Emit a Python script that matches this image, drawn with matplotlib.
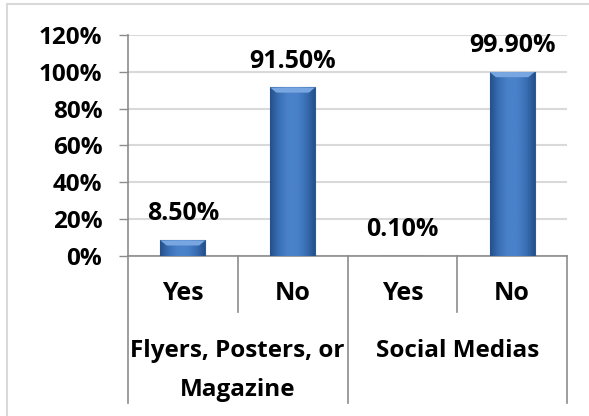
import numpy as np
import matplotlib
matplotlib.use("Agg")
import matplotlib.pyplot as plt
from matplotlib.colors import LinearSegmentedColormap
from matplotlib.ticker import FuncFormatter, MultipleLocator

# Survey responses: how respondents heard about the event
groups = ["Flyers, Posters, or\nMagazine", "Social Medias"]
answers = ["Yes", "No", "Yes", "No"]
values = [0.085, 0.915, 0.001, 0.999]
value_labels = ["8.50%", "91.50%", "0.10%", "99.90%"]

FONT = ["Open Sans", "DejaVu Sans"]
plt.rcParams["font.family"] = FONT
plt.rcParams["font.weight"] = "bold"

W, H = 589, 416
fig = plt.figure(figsize=(W / 100, H / 100), dpi=100)

# light frame around the chart area
fig.add_artist(plt.Line2D([7 / W, 7 / W], [0, 1 - 4 / H], color="#d9d9d9", lw=1.5))
fig.add_artist(plt.Line2D([7 / W, 1], [1 - 4 / H, 1 - 4 / H], color="#d9d9d9", lw=1.5))

left, right, top, bottom = 128, 567, 35, 256
ax = fig.add_axes([left / W, 1 - bottom / H, (right - left) / W, (bottom - top) / H])

x = np.arange(len(values))
bars = ax.bar(x, values, width=0.41, color="#3d72b8", edgecolor="#2b5a94", linewidth=0.8, zorder=3)

# bevelled blue shading on each bar
cmap = LinearSegmentedColormap.from_list(
    "bevel", ["#24508a", "#3a6fb5", "#4a82ca", "#4a82ca", "#3a6fb5", "#24508a"])
grad = np.linspace(0, 1, 256)[None, :]
for b in bars:
    x0, y0 = b.get_x(), b.get_y()
    bw, bh = b.get_width(), b.get_height()
    if bh <= 0.002:
        continue
    im = ax.imshow(grad, cmap=cmap, aspect="auto", extent=[x0, x0 + bw, y0, y0 + bh],
                   zorder=3.5, interpolation="bicubic")
    im.set_clip_path(b)
    # light strip along the top edge
    cap = min(0.028, bh * 0.35)
    ax.fill([x0, x0 + bw, x0 + bw * 0.86, x0 + bw * 0.14],
            [y0 + bh, y0 + bh, y0 + bh - cap, y0 + bh - cap],
            color="#78a6e0", zorder=4, lw=0)

for xi, v, lab in zip(x, values, value_labels):
    ax.annotate(lab, (xi, v), xytext=(0, 19), textcoords="offset points",
                ha="center", va="center", fontsize=18, fontweight="bold", color="black")

ax.set_xlim(-0.5, len(values) - 0.5)
ax.set_ylim(0, 1.2)
ax.yaxis.set_major_locator(MultipleLocator(0.2))
ax.yaxis.set_major_formatter(FuncFormatter(lambda v, _: f"{v * 100:.0f}%"))
ax.grid(axis="y", color="#d9d9d9", lw=1.5, zorder=0)
ax.set_axisbelow(True)
ax.tick_params(axis="y", length=6.5, width=1, color="#8c8c8c", labelsize=17.5, pad=12)
for lab in ax.get_yticklabels():
    lab.set_fontweight("bold")
ax.set_xticks([])

for s in ["top", "right"]:
    ax.spines[s].set_visible(False)
ax.spines["left"].set_color("#8c8c8c")
ax.spines["bottom"].set_color("#8c8c8c")
ax.spines["left"].set_linewidth(1.2)
ax.spines["bottom"].set_linewidth(1.2)

# category table under the axis
trans = ax.get_xaxis_transform()
ax_h = bottom - top
def yfrac(py):
    return (bottom - py) / ax_h

for xb in np.arange(-0.5, len(values), 1.0):
    outer = (xb + 0.5) % 2 == 0
    y_end = yfrac(403) if outer else yfrac(312)
    ax.plot([xb, xb], [0, y_end], transform=trans, color="#8c8c8c", lw=1.2, clip_on=False)

for xi, a in zip(x, answers):
    ax.text(xi, yfrac(294), a, transform=trans, ha="center", va="center",
            fontsize=18, fontweight="bold")

for gi, g in enumerate(groups):
    ax.text(gi * 2 + 0.5, yfrac(339), g, transform=trans, ha="center", va="top",
            fontsize=17.5, fontweight="bold", linespacing=1.82)

fig.savefig("out.png", dpi=100)
